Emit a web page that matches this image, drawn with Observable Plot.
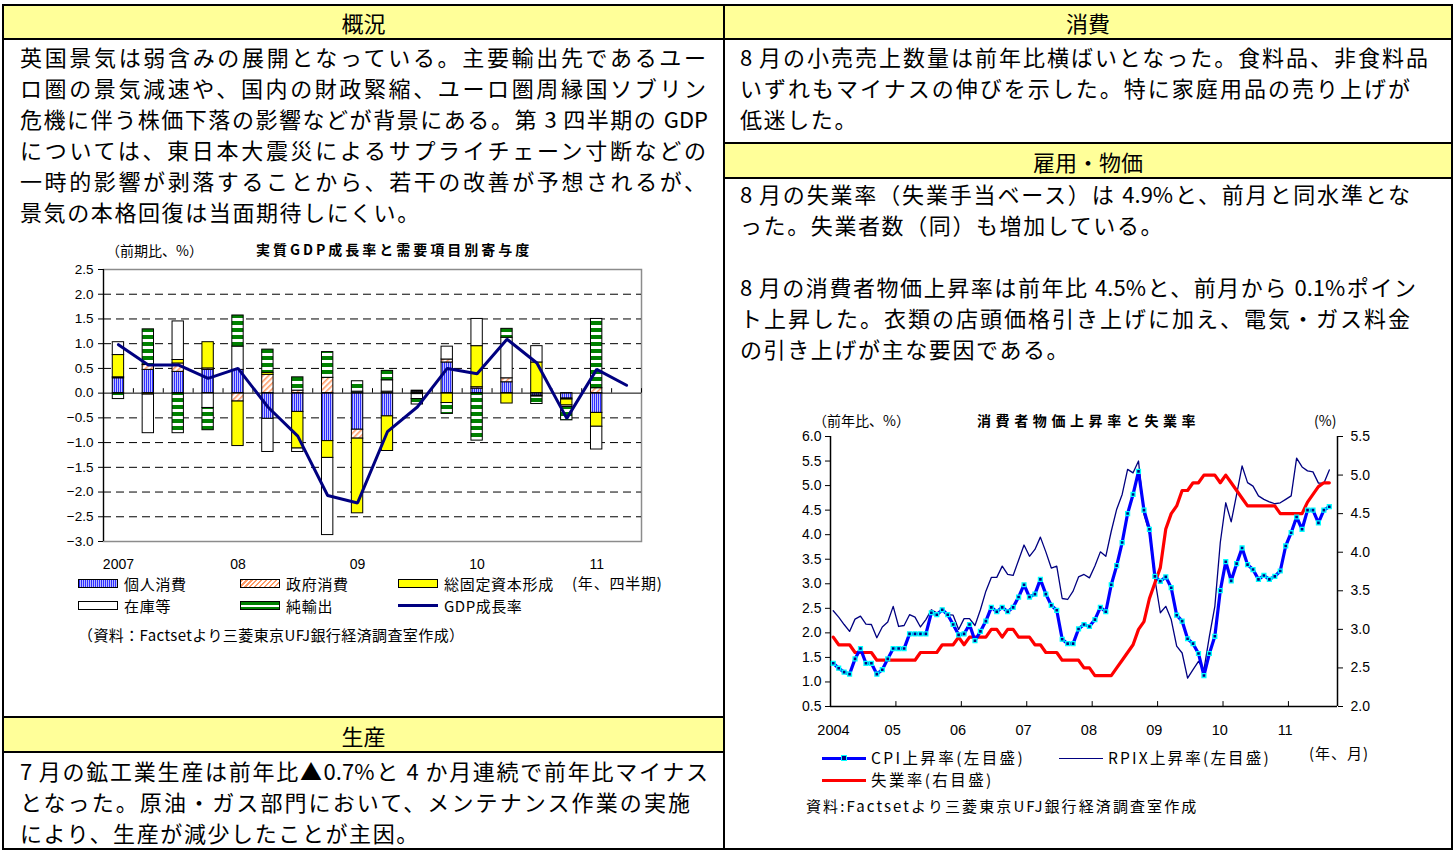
<!DOCTYPE html>
<html><head><meta charset="utf-8">
<script src="https://cdn.jsdelivr.net/npm/d3@7"></script>
<script src="https://cdn.jsdelivr.net/npm/@observablehq/plot@0.6"></script>
<style>
html,body{margin:0;padding:0;background:#fff;}
body{width:1456px;height:850px;overflow:hidden;position:relative;font-family:"Noto Sans CJK JP","Noto Sans",sans-serif;color:#000;}
.bl{position:absolute;background:#000;}
.hdr{position:absolute;background:#FFFF99;display:flex;align-items:center;justify-content:center;font-size:22px;line-height:1;}
.ln{position:absolute;font-size:22px;line-height:31px;height:31px;white-space:nowrap;letter-spacing:1.6px;}
.j{white-space:normal;text-align:justify;text-align-last:justify;letter-spacing:0;overflow:visible;}
.t{position:absolute;white-space:nowrap;line-height:1;}
.sw{position:absolute;box-sizing:border-box;}
</style></head>
<body>
<div id="root"></div>
<script>
// ---------------- data: GDP chart ----------------
const quarters = ["2007Q1","2007Q2","2007Q3","2007Q4","2008Q1","2008Q2","2008Q3","2008Q4","2009Q1","2009Q2","2009Q3","2009Q4","2010Q1","2010Q2","2010Q3","2010Q4","2011Q1","2011Q2"];
const compNames = ["個人消費","政府消費","総固定資本形成","在庫等","純輸出"];
const privCons = [0.30,0.47,0.43,0.47,0.47,-0.52,-0.38,-0.97,-0.74,-0.47,0.03,0.62,0.09,0.22,-0.05,-0.11,-0.40];
const govCons  = [0.02,0.10,0.17,0.03,-0.17,0.37,0.05,0.31,-0.18,0.03,0.02,0.06,0.03,0.08,-0.02,-0.02,0.10];
const gfcf     = [0.45,-0.03,0.07,0.53,-0.90,0.04,-0.74,-0.34,-1.51,-0.70,-0.02,-0.20,0.83,-0.21,0.62,-0.12,-0.28];
const stocks   = [0.26,-0.78,0.78,-0.30,0.47,-0.67,-0.07,-1.56,0.03,0.23,-0.10,0.26,0.55,0.82,0.33,-0.03,-0.46];
const netExp   = [-0.12,0.72,-0.81,-0.45,0.63,0.47,0.27,0.52,0.21,0.19,-0.11,-0.22,-0.96,0.18,-0.15,-0.27,1.40];
const gdpGrowth = [0.98,0.57,0.57,0.30,0.50,-0.28,-0.87,-2.07,-2.22,-0.78,-0.28,0.50,0.39,1.09,0.61,-0.51,0.48,0.16];
const gdpYearLabels = [{q:"2007Q1",t:"2007"},{q:"2008Q1",t:"08"},{q:"2009Q1",t:"09"},{q:"2010Q1",t:"10"},{q:"2011Q1",t:"11"}];
const gdpYTicks = [-3.0,-2.5,-2.0,-1.5,-1.0,-0.5,0.0,0.5,1.0,1.5,2.0,2.5];

// ---------------- data: CPI chart (monthly, 2004-01 .. 2011-08) ----------------
const cpi = [1.38,1.28,1.20,1.16,1.47,1.68,1.38,1.38,1.16,1.25,1.47,1.68,
 1.68,1.68,1.98,1.98,1.98,1.98,2.41,2.37,2.47,2.37,2.17,1.96,
 1.98,2.17,1.84,2.03,2.24,2.52,2.43,2.52,2.43,2.52,2.73,2.98,
 2.73,2.79,3.09,2.79,2.56,2.46,1.87,1.78,1.78,2.08,2.17,2.13,
 2.27,2.52,2.43,2.98,3.37,3.84,4.43,4.82,5.29,4.50,4.11,3.15,
 3.05,3.14,2.92,2.36,2.24,1.88,1.78,1.58,1.13,1.58,1.93,2.86,
 3.45,3.06,3.41,3.73,3.39,3.29,3.09,3.17,3.09,3.15,3.26,3.77,
 4.04,4.36,4.11,4.50,4.50,4.24,4.50,4.57];
const rpix = [2.45,2.32,2.17,2.03,2.28,2.34,2.18,2.17,1.90,2.12,2.22,2.54,
 2.13,2.15,2.37,2.32,2.12,2.27,2.47,2.41,2.46,2.37,2.36,2.07,
 2.29,2.29,2.15,2.47,2.85,3.13,3.13,3.36,3.19,3.17,3.48,3.79,
 3.56,3.70,3.95,3.65,3.32,3.36,2.70,2.68,2.85,3.14,3.19,3.12,
 3.36,3.65,3.56,4.07,4.52,4.82,5.33,5.26,5.50,4.41,4.04,3.10,
 2.41,2.54,2.27,1.73,1.59,1.08,1.25,1.42,1.25,1.93,2.54,3.84,
 4.65,4.26,4.82,5.40,5.06,4.99,4.79,4.72,4.67,4.63,4.65,4.72,
 4.79,5.56,5.38,5.30,5.28,5.05,5.05,5.32];
const unemp = [2.9,2.8,2.8,2.8,2.7,2.7,2.7,2.7,2.6,2.6,2.6,2.6,
 2.6,2.6,2.6,2.6,2.7,2.7,2.7,2.7,2.8,2.8,2.8,2.9,
 2.8,2.9,2.9,2.9,2.9,3.0,3.0,2.9,3.0,3.0,2.9,2.9,
 2.9,2.8,2.8,2.7,2.7,2.7,2.6,2.6,2.6,2.6,2.5,2.5,
 2.4,2.4,2.4,2.4,2.5,2.6,2.7,2.8,3.0,3.1,3.4,3.6,
 3.8,4.3,4.5,4.6,4.8,4.8,4.9,4.9,5.0,5.0,5.0,4.9,
 5.0,4.9,4.8,4.7,4.6,4.6,4.6,4.6,4.6,4.6,4.5,4.5,
 4.5,4.5,4.5,4.65,4.75,4.85,4.9,4.9];
const cpiYearLabels = ["2004","05","06","07","08","09","10","11"];
const cpiLeftTicks = [0.5,1.0,1.5,2.0,2.5,3.0,3.5,4.0,4.5,5.0,5.5,6.0];
const cpiRightTicks = [2.0,2.5,3.0,3.5,4.0,4.5,5.0,5.5];

// ---------------- page layout ----------------
const root = document.getElementById("root");
function add(html){ root.insertAdjacentHTML("beforeend", html); }
function box(x,y,w,h){ add(`<div class="bl" style="left:${x}px;top:${y}px;width:${w}px;height:${h}px"></div>`); }
function hdr(x,y,w,h,t){ add(`<div class="hdr" style="left:${x}px;top:${y}px;width:${w}px;height:${h}px">${t}</div>`); }
function line(t,x,cy,w){
  if (w) add(`<div class="ln j" style="left:${x}px;top:${cy-15.5}px;width:${w}px">${t}</div>`);
  else add(`<div class="ln" style="left:${x}px;top:${cy-15.5}px">${t}</div>`);
}
function txt(t,x,cy,size,extra){ add(`<div class="t" style="left:${x}px;top:${cy-size/2}px;font-size:${size}px;${extra||""}">${t}</div>`); }

hdr(4,6,719,32,"概況");
hdr(725,6,726,32,"消費");
hdr(725,144,726,33,"雇用・物価");
hdr(4,718,719,33,"生産");
box(2,4,1451,2); box(2,38,1451,2);
box(2,4,2,846); box(723,4,2,846); box(1451,4,2,846);
box(2,716,723,2); box(2,751,723,2);
box(723,142,730,2); box(723,177,730,2);
box(2,848,1451,2);

line("英国景気は弱含みの展開となっている。主要輸出先であるユー",20,56.5,686);
line("ロ圏の景気減速や、国内の財政緊縮、ユーロ圏周縁国ソブリン",20,87.5,686);
line("危機に伴う株価下落の影響などが背景にある。第 3 四半期の GDP",20,118.5,688);
line("については、東日本大震災によるサプライチェーン寸断などの",20,149.5,686);
line("一時的影響が剥落することから、若干の改善が予想されるが、",20,180.5,686);
line("景気の本格回復は当面期待しにくい。",20,211.5);

line("8 月の小売売上数量は前年比横ばいとなった。食料品、非食料品",740,56.5,688);
line("いずれもマイナスの伸びを示した。特に家庭用品の売り上げが",740,87.5,670);
line("低迷した。",740,118.5);

line("8 月の失業率（失業手当ベース）は 4.9%と、前月と同水準とな",740,193.5,670);
line("った。失業者数（同）も増加している。",740,224.5);
line("8 月の消費者物価上昇率は前年比 4.5%と、前月から 0.1%ポイン",740,286.5,676);
line("ト上昇した。衣類の店頭価格引き上げに加え、電気・ガス料金",740,317.5,670);
line("の引き上げが主な要因である。",740,348.5);

line("7 月の鉱工業生産は前年比▲0.7%と 4 か月連続で前年比マイナス",20,770,688);
line("となった。原油・ガス部門において、メンテナンス作業の実施",20,801,670);
line("により、生産が減少したことが主因。",20,832);

// chart annotations (left)
txt("（前期比、%）",106,250,14);
txt("実質GDP成長率と需要項目別寄与度",256,249,14,"font-weight:700;letter-spacing:3px;");
txt("(年、四半期)",572,582,15,"letter-spacing:0.8px;");
const swLeft = [
  {x:78,y:583,bg:"repeating-linear-gradient(90deg,#2f2fff 0 1px,#b8b8ff 1px 2px)",t:compNames[0]},
  {x:240,y:583,bg:"repeating-linear-gradient(135deg,#ff9a66 0 1.5px,#fff 1.5px 3.5px)",t:compNames[1]},
  {x:398,y:583,bg:"#ffff00",t:compNames[2]},
  {x:78,y:605,bg:"#fff",t:compNames[3]},
  {x:240,y:605,bg:"linear-gradient(180deg,#008000 0 3px,#fff 3px 5px,#008000 5px 100%)",t:compNames[4]}
];
swLeft.forEach(s=>{
  add(`<div class="sw" style="left:${s.x}px;top:${s.y-4.5}px;width:40px;height:9px;background:${s.bg};border:1px solid #000"></div>`);
  txt(s.t,s.x+46,s.y,15,"letter-spacing:0.7px;");
});
add(`<div class="sw" style="left:398px;top:603.5px;width:40px;height:3px;background:#000080"></div>`);
txt("GDP成長率",444,605,15,"letter-spacing:0.5px;");
txt("（資料：Factsetより三菱東京UFJ銀行経済調査室作成）",78,634,15,"letter-spacing:0.4px;");

// chart annotations (right)
txt("（前年比、%）",813,420,14);
txt("消費者物価上昇率と失業率",977,420,14,"font-weight:700;letter-spacing:4.6px;");
txt("(%)",1314,420,14);
txt("(年、月)",1309,752,15,"letter-spacing:1px;");
add(`<div class="sw" style="left:822px;top:756.5px;width:44px;height:3.5px;background:#0000ff"></div>`);
add(`<div class="sw" style="left:841px;top:755px;width:6px;height:6px;background:#000080;border:1.3px solid #00ffff"></div>`);
txt("CPI上昇率(左目盛)",871,758,15.5,"letter-spacing:2.4px;");
add(`<div class="sw" style="left:1059px;top:757.5px;width:44px;height:1.5px;background:#000080"></div>`);
txt("RPIX上昇率(左目盛)",1108,758,15.5,"letter-spacing:2.2px;");
add(`<div class="sw" style="left:822px;top:778.5px;width:44px;height:3.5px;background:#ff0000"></div>`);
txt("失業率(右目盛)",871,780,15.5,"letter-spacing:2.4px;");
txt("資料:Factsetより三菱東京UFJ銀行経済調査室作成",806,805,15,"letter-spacing:2.1px;");

// ---------------- GDP chart ----------------
const comps = [privCons, govCons, gfcf, stocks, netExp];
const fills = ["url(#pBlue)","url(#pOrange)","#ffff00","#ffffff","url(#pGreen)"];
const rects = [];
privCons.forEach((_, i) => {
  let pos = 0, neg = 0;
  comps.forEach((arr, k) => {
    const v = arr[i];
    if (v >= 0) { rects.push({i, k, y1: pos, y2: pos + v}); pos += v; }
    else { rects.push({i, k, y1: neg, y2: neg + v}); neg += v; }
  });
});
const gdpData = gdpGrowth.map((v, i) => ({i, v}));
const qIndex = q => quarters.indexOf(q);
const fmt = d => d.toFixed(1).replace("-", "−");

const chart1 = Plot.plot({
  width: 620, height: 320,
  marginLeft: 63, marginRight: 19, marginTop: 11, marginBottom: 37,
  style: {fontFamily: "'Liberation Sans', Arial, sans-serif", fontSize: "13.5px", color: "#000", background: "transparent", overflow: "visible"},
  x: {domain: [0, quarters.length], axis: null},
  y: {domain: [-3, 2.5], axis: null},
  marks: [
    Plot.frame({stroke: "#8c8c8c", strokeWidth: 1.5}),
    Plot.ruleY(gdpYTicks.filter(d => d !== 0 && d > -3 && d < 2.5), {stroke: "#000", strokeDasharray: "8,5", strokeWidth: 1}),
    ...compNames.map((n, k) => Plot.rectY(rects.filter(r => r.k === k), {
      x1: r => r.i + 0.31, x2: r => r.i + 0.69, y1: "y1", y2: "y2",
      fill: fills[k], stroke: "#000", strokeWidth: 1
    })),
    Plot.ruleY([0], {stroke: "#000", strokeWidth: 1}),
    Plot.ruleX(d3.range(0, quarters.length + 1), {y1: 0, y2: 0.09, stroke: "#000"}),
    Plot.ruleX([0], {stroke: "#000", strokeWidth: 1.2}),
    Plot.axisY({ticks: gdpYTicks, tickFormat: fmt, tickSize: 5, tickPadding: 5, label: null}),
    Plot.line(gdpData, {x: d => d.i + 0.5, y: "v", stroke: "#000080", strokeWidth: 3, strokeLinejoin: "miter"}),
    Plot.text(gdpYearLabels, {x: d => qIndex(d.q) + 0.5, y: -3, dy: 23, text: "t", fontSize: 14})
  ]
});
d3.select(chart1).insert("defs", ":first-child").html(`
<pattern id="pBlue" patternUnits="userSpaceOnUse" width="2" height="4"><rect width="2" height="4" fill="#c0c0ff"/><rect width="1" height="4" fill="#2f2fff"/></pattern>
<pattern id="pOrange" patternUnits="userSpaceOnUse" width="4" height="4" patternTransform="rotate(45)"><rect width="4" height="4" fill="#fff"/><rect width="1.6" height="4" fill="#ff9a66"/></pattern>
<pattern id="pGreen" patternUnits="userSpaceOnUse" width="4" height="7"><rect width="4" height="7" fill="#fff"/><rect width="4" height="4" fill="#008000"/></pattern>`);
chart1.style.position = "absolute"; chart1.style.left = "40px"; chart1.style.top = "258px";
root.appendChild(chart1);

// ---------------- CPI chart ----------------
const nSlots = 93;
const toLeft = u => 0.5 + (u - 2) * 5.5 / 3.5;
const fromLeft = v => 2 + (v - 0.5) * 3.5 / 5.5;
const cpiData = cpi.map((v, i) => ({i, v}));
const rpixData = rpix.map((v, i) => ({i, v}));
const unData = unemp.map((v, i) => ({i, v}));
const yearPos = cpiYearLabels.map((t, k) => ({t, x: k === 0 ? 0.55 : k * 12 - 0.6}));

const chart2 = Plot.plot({
  width: 610, height: 316,
  marginLeft: 60, marginRight: 43, marginTop: 10, marginBottom: 36,
  style: {fontFamily: "'Liberation Sans', Arial, sans-serif", fontSize: "14px", color: "#000", background: "transparent", overflow: "visible"},
  x: {domain: [0, nSlots], axis: null},
  y: {domain: [0.5, 6.0], axis: null},
  marks: [
    Plot.axisY({anchor: "left", ticks: cpiLeftTicks, tickFormat: d => d.toFixed(1), tickSize: 5, tickPadding: 4, label: null}),
    Plot.axisY({anchor: "right", ticks: cpiRightTicks.map(toLeft), tickFormat: d => fromLeft(d).toFixed(1), tickSize: 5, tickPadding: 8, label: null}),
    Plot.ruleX([0, nSlots], {stroke: "#000", strokeWidth: 1.5}),
    Plot.ruleY([0.5], {stroke: "#000", strokeWidth: 1.5}),
    Plot.ruleX(d3.range(12, nSlots, 12), {y1: 0.5, y2: 0.6, stroke: "#000"}),
    Plot.line(rpixData, {x: d => d.i + 0.5, y: "v", stroke: "#000080", strokeWidth: 1.3}),
    Plot.line(unData, {x: d => d.i + 0.5, y: d => toLeft(d.v), stroke: "#ff0000", strokeWidth: 3.2}),
    Plot.line(cpiData, {x: d => d.i + 0.5, y: "v", stroke: "#0000ff", strokeWidth: 3.2}),
    Plot.dot(cpiData, {x: d => d.i + 0.5, y: "v", symbol: "square", r: 2.2, fill: "#000080", stroke: "#00ffff", strokeWidth: 1.3}),
    Plot.text(yearPos, {x: "x", y: 0.5, dy: 24, text: "t", fontSize: 14.5})
  ]
});
chart2.style.position = "absolute"; chart2.style.left = "770px"; chart2.style.top = "426px";
root.appendChild(chart2);
</script>
</body></html>
